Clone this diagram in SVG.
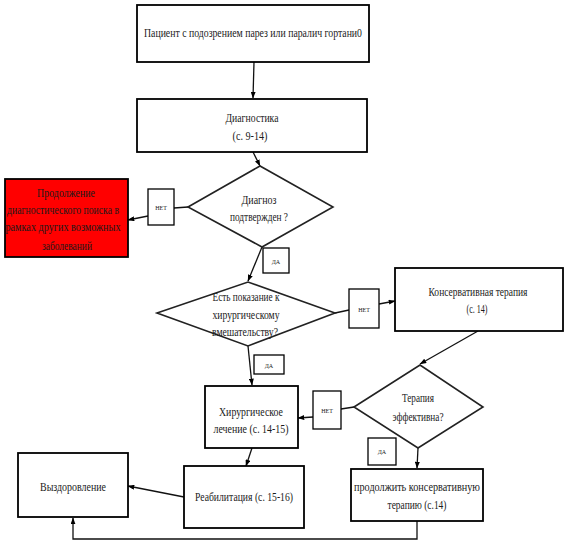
<svg xmlns="http://www.w3.org/2000/svg" width="565" height="545" viewBox="0 0 565 545">
<style>
.b{fill:#fff;stroke:#000;stroke-width:1.8}
.d{fill:#fff;stroke:#222;stroke-width:1.6}
.s{fill:#fff;stroke:#000;stroke-width:1.3}
.r{fill:#ff0000;stroke:#000;stroke-width:1.8}
text{font-family:"Liberation Serif","Times New Roman",serif;font-size:13px;fill:#1a1a1a;text-anchor:middle}
.t{font-size:9px;font-variant:small-caps}
.c{fill:none;stroke:#111;stroke-width:1.3}
</style>
<defs>
<marker id="a" viewBox="0 0 8 6" refX="7.5" refY="3" markerWidth="7" markerHeight="5" markerUnits="userSpaceOnUse" orient="auto">
<path d="M0,0 L8,3 L0,6 z" fill="#000"/>
</marker>
</defs>
<rect width="565" height="545" fill="#fff"/>
<g id="connectors">
<path class="c" d="M254,62 L253,98" marker-end="url(#a)"/>
<path class="c" d="M253,152 L260,166" marker-end="url(#a)"/>
<path class="c" d="M188,207 L174,208"/>
<path class="c" d="M148,216 L128,220" marker-end="url(#a)"/>
<path class="c" d="M262,247 L248,281" marker-end="url(#a)"/>
<path class="c" d="M335,313 L349,310"/>
<path class="c" d="M379,304 L395,301" marker-end="url(#a)"/>
<path class="c" d="M248,346 L252,385" marker-end="url(#a)"/>
<path class="c" d="M478,331 L420,364" marker-end="url(#a)"/>
<path class="c" d="M354,407 L341,409"/>
<path class="c" d="M313,417 L298,418" marker-end="url(#a)"/>
<path class="c" d="M418,448 L417,468" marker-end="url(#a)"/>
<path class="c" d="M252,448 L246,466" marker-end="url(#a)"/>
<path class="c" d="M184,497 L128,486" marker-end="url(#a)"/>
<path class="c" d="M417,521 L417,539 L73,539 L73,518" marker-end="url(#a)"/>
</g>
<g id="patient">
<rect class="b" x="137" y="5" width="232" height="57"/>
<text x="253" y="37" textLength="218" lengthAdjust="spacingAndGlyphs">Пациент с подозрением парез или паралич гортани0</text>
</g>
<g id="diagnostics">
<rect class="b" x="137" y="99" width="230" height="53"/>
<text x="252" y="122" textLength="53" lengthAdjust="spacingAndGlyphs">Диагностика</text>
<text x="250" y="140" textLength="35" lengthAdjust="spacingAndGlyphs">(с. 9-14)</text>
</g>
<g id="decision1">
<polygon class="d" points="188,207 260,166 333,207 262,247"/>
<text x="259" y="204" textLength="35" lengthAdjust="spacingAndGlyphs">Диагноз</text>
<text x="259" y="221" textLength="58" lengthAdjust="spacingAndGlyphs">подтвержден ?</text>
</g>
<g id="no1">
<rect class="s" x="148" y="189" width="26" height="36"/>
<text class="t" x="161" y="210">нет</text>
</g>
<g id="other">
<rect class="r" x="5" y="179" width="123" height="78"/>
<text x="66" y="197" textLength="58" lengthAdjust="spacingAndGlyphs">Продолжение</text>
<text x="63" y="214" textLength="112" lengthAdjust="spacingAndGlyphs">диагностического поиска в</text>
<text x="63" y="231" textLength="115" lengthAdjust="spacingAndGlyphs">рамках других возможных</text>
<text x="67" y="250" textLength="50" lengthAdjust="spacingAndGlyphs">заболеваний</text>
</g>
<g id="yes1">
<rect class="s" x="263" y="248" width="26" height="25"/>
<text class="t" x="276" y="264">да</text>
</g>
<g id="decision2">
<polygon class="d" points="157,313 248,282 335,313 248,346"/>
<text x="246" y="301" textLength="67" lengthAdjust="spacingAndGlyphs">Есть показание к</text>
<text x="246" y="319" textLength="67" lengthAdjust="spacingAndGlyphs">хирургическому</text>
<text x="245" y="336" textLength="66" lengthAdjust="spacingAndGlyphs">вмешательству?</text>
</g>
<g id="no2">
<rect class="s" x="349" y="289" width="30" height="39"/>
<text class="t" x="364" y="312">нет</text>
</g>
<g id="conservative">
<rect class="b" x="395" y="268" width="168" height="63"/>
<text x="478" y="296" textLength="99" lengthAdjust="spacingAndGlyphs">Консервативная терапия</text>
<text x="477" y="313" textLength="21" lengthAdjust="spacingAndGlyphs">(с. 14)</text>
</g>
<g id="yes2">
<rect class="s" x="254" y="355" width="30" height="19"/>
<text class="t" x="269" y="368">да</text>
</g>
<g id="decision3">
<polygon class="d" points="354,407 420,365 483,407 418,448"/>
<text x="418" y="402" textLength="32" lengthAdjust="spacingAndGlyphs">Терапия</text>
<text x="418" y="421" textLength="51" lengthAdjust="spacingAndGlyphs">эффективна?</text>
</g>
<g id="no3">
<rect class="s" x="313" y="391" width="28" height="38"/>
<text class="t" x="327" y="413">нет</text>
</g>
<g id="surgery">
<rect class="b" x="205" y="386" width="93" height="62"/>
<text x="251" y="416" textLength="64" lengthAdjust="spacingAndGlyphs">Хирургическое</text>
<text x="251" y="433" textLength="75" lengthAdjust="spacingAndGlyphs">лечение (с. 14-15)</text>
</g>
<g id="yes3">
<rect class="s" x="368" y="438" width="28" height="27"/>
<text class="t" x="382" y="454">да</text>
</g>
<g id="continue">
<rect class="b" x="351" y="469" width="132" height="52"/>
<text x="417" y="491" textLength="126" lengthAdjust="spacingAndGlyphs">продолжить консервативную</text>
<text x="417" y="509" textLength="59" lengthAdjust="spacingAndGlyphs">терапию (с.14)</text>
</g>
<g id="rehab">
<rect class="b" x="184" y="466" width="120" height="62"/>
<text x="244" y="501" textLength="98" lengthAdjust="spacingAndGlyphs">Реабилитация (с. 15-16)</text>
</g>
<g id="recovery">
<rect class="b" x="18" y="453" width="110" height="64"/>
<text x="73" y="491" textLength="66" lengthAdjust="spacingAndGlyphs">Выздоровление</text>
</g>
</svg>
